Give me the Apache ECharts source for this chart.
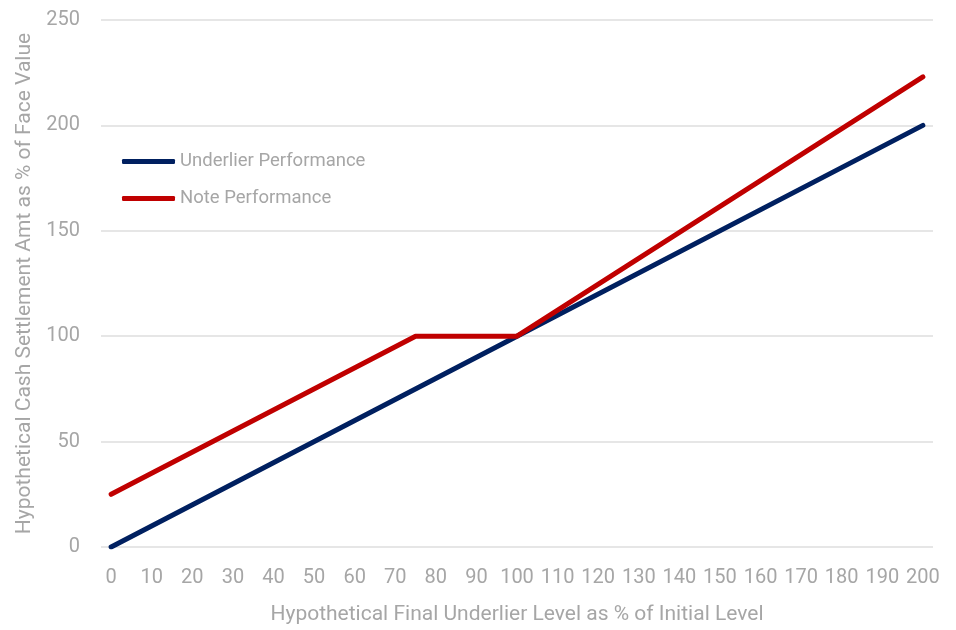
<!DOCTYPE html>
<html>
<head>
<meta charset="utf-8">
<script src="https://cdn.jsdelivr.net/npm/echarts@6/dist/echarts.min.js"></script>
<style>
  html, body { margin: 0; padding: 0; background: #fff; }
  #chart { width: 956px; height: 630px; }
</style>
</head>
<body>
<div id="chart"></div>
<script>
// tick labels on the x axis
var xTicks = [0, 10, 20, 30, 40, 50, 60, 70, 80, 90, 100, 110, 120, 130, 140, 150, 160, 170, 180, 190, 200];
// underlier performance: [final level %, settlement %]
var underlierX = [0, 100, 200];
var underlierY = [0, 100, 200];
// note performance
var noteX = [0, 75, 100, 200];
var noteY = [25, 100, 100, 223];

function pairs(xs, ys) {
	var res = [];
	for (var i = 0; i < xs.length; i++) {
		res.push([xs[i], ys[i]]);
	}
	return res;
}

var fontName = "'Liberation Sans Narrow', 'Roboto', sans-serif";
var grey = '#a6a6a6';

var myChart = echarts.init(document.getElementById('chart'));
var option = {
	animation: false,
	grid: {
		left: 101,
		right: 23,
		top: 20,
		bottom: 79
	},
	legend: {
		orient: 'vertical',
		left: 117,
		top: 147,
		itemWidth: 53,
		itemHeight: 5,
		itemGap: 18,
		icon: 'roundRect',
		textStyle: { color: grey, fontSize: 18.5, fontFamily: fontName },
		data: ['Underlier Performance', 'Note Performance']
	},
	xAxis: {
		type: 'value',
		min: -2.5,
		max: 202.5,
		name: 'Hypothetical Final Underlier Level as % of Initial Level',
		nameLocation: 'middle',
		nameGap: 57,
		nameTextStyle: { color: grey, fontSize: 21, fontFamily: fontName },
		axisLine: { show: false },
		axisTick: { show: false },
		splitLine: { show: false },
		axisLabel: {
			customValues: xTicks,
			color: grey,
			fontSize: 20,
			fontFamily: fontName,
			margin: 21
		}
	},
	yAxis: {
		type: 'value',
		min: 0,
		max: 250,
		interval: 50,
		name: 'Hypothetical Cash Settlement Amt as % of Face Value',
		nameLocation: 'middle',
		nameGap: 63,
		nameTextStyle: { color: grey, fontSize: 21, fontFamily: fontName },
		axisLine: { show: false },
		axisTick: { show: false },
		splitLine: { lineStyle: { color: '#e6e6e6', width: 2 } },
		axisLabel: { color: grey, fontSize: 20, fontFamily: fontName, margin: 21 }
	},
	series: [
		{
			name: 'Underlier Performance',
			type: 'line',
			showSymbol: false,
			itemStyle: { color: '#002060' },
			lineStyle: { color: '#002060', width: 5, cap: 'round', join: 'round' },
			data: pairs(underlierX, underlierY)
		},
		{
			name: 'Note Performance',
			type: 'line',
			showSymbol: false,
			itemStyle: { color: '#c00000' },
			lineStyle: { color: '#c00000', width: 5, cap: 'round', join: 'round' },
			data: pairs(noteX, noteY)
		}
	]
};
myChart.setOption(option, true);
</script>
</body>
</html>
